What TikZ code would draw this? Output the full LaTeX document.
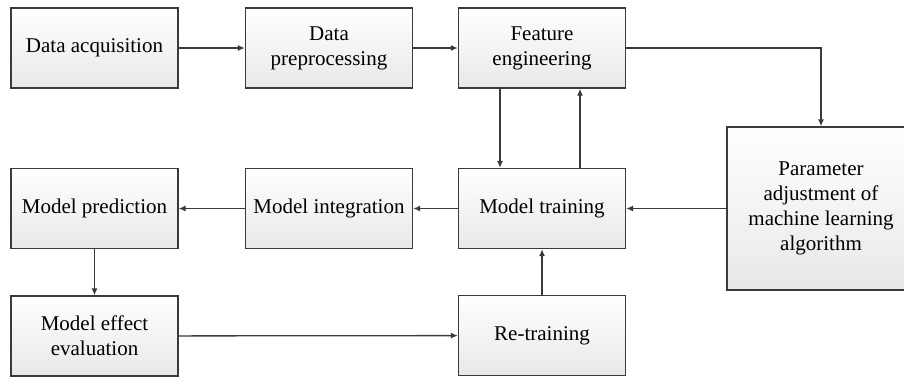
\documentclass[tikz,border=0pt]{standalone}
\usepackage{fontspec}
\setmainfont{Liberation Serif}
\usepackage{tikz}
\usetikzlibrary{arrows.meta}
\usetikzlibrary{positioning}
\definecolor{edge}{RGB}{58,58,58}
\tikzset{->/.style = {-{Latex[length=7pt,width=6pt]}}}
\tikzset{stagebox/.style = {draw = edge, line width = 1.3pt, top color = white,
                            bottom color = black!9, minimum width = 167pt,
                            minimum height = 80pt, align = center,
                            font = \fontsize{21}{25}\selectfont}}
\tikzset{link/.style = {draw = edge, line width = 1.3pt}}

\begin{document}
\begin{tikzpicture}[x = 1pt, y = -1pt]
      \useasboundingbox (0, 0) rectangle (904, 381);

      \node [stagebox] (acq) at (94.5, 48) {Data acquisition};
      \node [stagebox] (prep) at (329, 48) {Data\\preprocessing};
      \node [stagebox] (feat) at (542, 48) {Feature\\engineering};
      \node [stagebox] (train) at (542, 208.5) {Model training};
      \node [stagebox] (integ) at (329, 208.5) {Model integration};
      \node [stagebox] (pred) at (94.5, 208.5) {Model prediction};
      \node [stagebox] (eval) at (94.5, 336) {Model effect\\evaluation};
      \node [stagebox] (retrain) at (542, 335.5) {Re-training};
      \node [stagebox, minimum width = 188pt, minimum height = 163pt]
            (param) at (821, 208.5) {Parameter\\adjustment of\\machine learning\\algorithm};

      \draw [link, ->] (acq) -- (prep);
      \draw [link, ->] (prep) -- (feat);
      \draw [link, ->] (feat.east) -| (param.north);
      \draw [link, ->] ([xshift = -42pt]feat.south) -- ([xshift = -42pt]train.north);
      \draw [link, ->] ([xshift = 38pt]train.north) -- ([xshift = 38pt]feat.south);
      \draw [link, ->] (param) -- (train);
      \draw [link, ->] (train) -- (integ);
      \draw [link, ->] (integ) -- (pred);
      \draw [link, ->] (pred) -- (eval);
      \draw [link, ->] (eval) -- (retrain);
      \draw [link, ->] (retrain) -- (train);
    \end{tikzpicture}
\end{document}
